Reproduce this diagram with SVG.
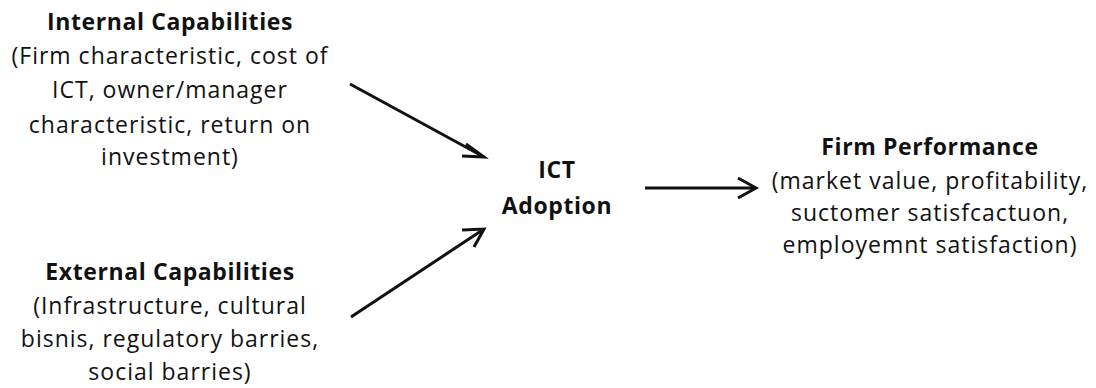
<svg xmlns="http://www.w3.org/2000/svg" width="1096" height="388" viewBox="0 0 1096 388">
<style>
text{font-family:"Open Sans","Liberation Sans",sans-serif;font-size:23px;fill:#111;text-anchor:middle;letter-spacing:1px}
.b{font-weight:bold;letter-spacing:0.6px}
.c{stroke:#111;stroke-width:3;fill:none}
</style>
<rect width="1096" height="388" fill="#fff"/>
<g id="internal">
<text x="170" y="30" class="b">Internal Capabilities</text>
<text x="170" y="64">(Firm characteristic, cost of</text>
<text x="170" y="98">ICT, owner/manager</text>
<text x="170" y="133">characteristic, return on</text>
<text x="170" y="165">investment)</text>
</g>
<g id="external">
<text x="170" y="280" class="b">External Capabilities</text>
<text x="170" y="314">(Infrastructure, cultural</text>
<text x="170" y="347">bisnis, regulatory barries,</text>
<text x="170" y="380">social barries)</text>
</g>
<g id="ict">
<text x="557" y="178" class="b">ICT</text>
<text x="557" y="214" class="b">Adoption</text>
</g>
<g id="performance">
<text x="930" y="155" class="b">Firm Performance</text>
<text x="930" y="189">(market value, profitability,</text>
<text x="930" y="221">suctomer satisfcactuon,</text>
<text x="930" y="253">employemnt satisfaction)</text>
</g>
<g id="connectors">
<path class="c" d="M350,84 L484,157"/>
<path d="M466,144 L484,157 L462,156" class="c"/>
<path class="c" d="M351,317 L484,229"/>
<path d="M462,230 L484,229 L474,247" class="c"/>
<path class="c" d="M645,188 L756,188"/>
<path d="M738,178 L756,188 L738,198" class="c"/>
</g>
</svg>
